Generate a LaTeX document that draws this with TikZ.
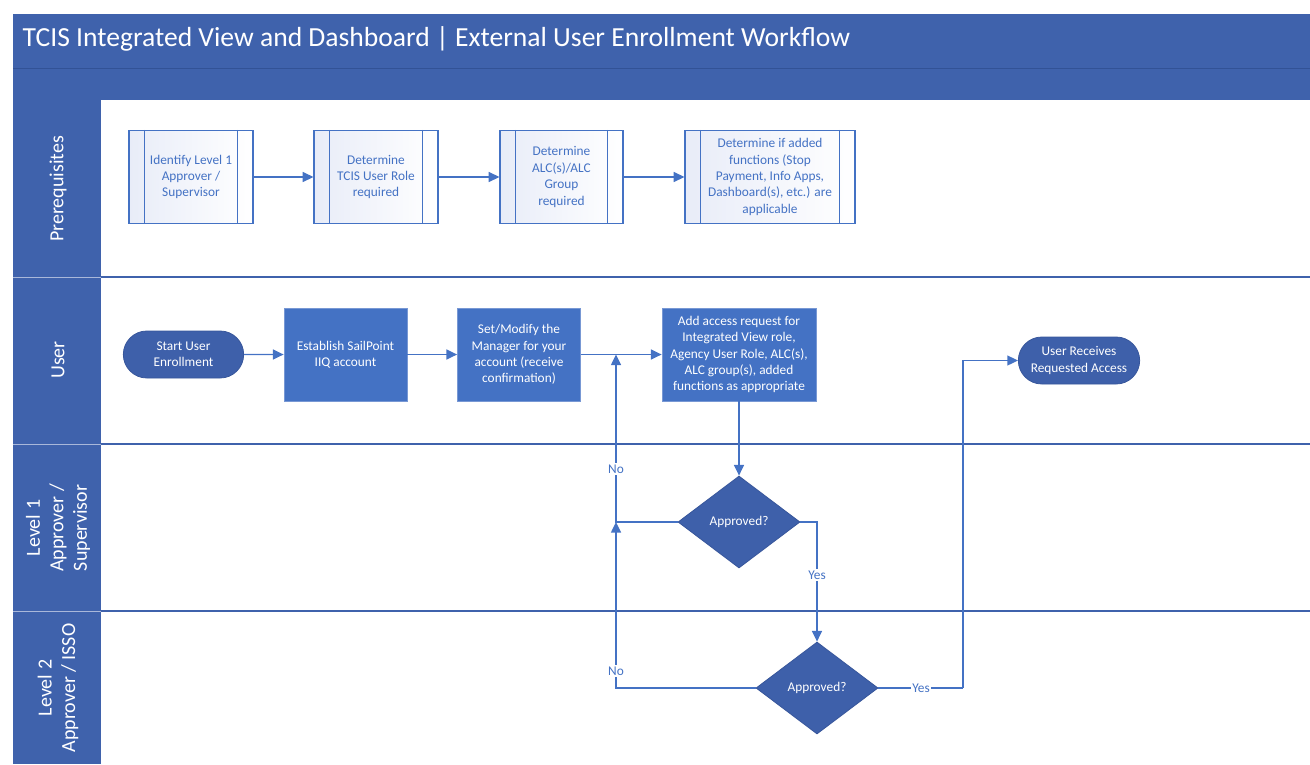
\documentclass[tikz,border=0pt]{standalone}
\usepackage{fontspec}
\setmainfont{Carlito}
\usetikzlibrary{arrows.meta,shapes.geometric,shapes.misc}
\definecolor{pool}{RGB}{63,98,172}
\definecolor{pooldark}{RGB}{50,82,150}
\definecolor{procblue}{RGB}{68,114,196}
\definecolor{procedge}{RGB}{120,152,212}
\definecolor{dark}{RGB}{62,96,170}
\definecolor{darkedge}{RGB}{55,86,155}
\definecolor{cline}{RGB}{68,114,196}
\definecolor{lav}{RGB}{232,236,248}
\begin{document}
\begin{tikzpicture}[x=0.75pt,y=-0.75pt,
  boxfont/.style={font=\fontsize{10}{12.3}\selectfont},
  sub/.style={rectangle, draw=cline, line width=0.9pt, left color=lav, right color=white, text=cline, align=center, minimum height={93*0.75pt}, inner sep=1pt, boxfont},
  proc/.style={rectangle, fill=procblue, draw=procedge, line width=0.6pt, text=white, align=center, minimum width={123*0.75pt}, minimum height={93*0.75pt}, inner sep=1pt, boxfont},
  term/.style={rounded rectangle, fill=dark, draw=darkedge, line width=0.6pt, text=white, align=center, minimum width={123*0.75pt}, minimum height={47*0.75pt}, inner sep=1pt, boxfont},
  dec/.style={diamond, fill=dark, draw=darkedge, line width=0.6pt, text=white, minimum width={122*0.75pt}, minimum height={92*0.75pt}, inner sep=0pt, boxfont},
  conn/.style={draw=cline, line width=1.1pt, -{Triangle[length=8pt,width=7.5pt]}},
  plain/.style={draw=cline, line width=1.1pt},
  lab/.style={fill=white, text=cline, inner sep=1pt, boxfont},
  lanelab/.style={rotate=90, text=white, align=center, font=\fontsize{15}{17.6}\selectfont}
]
\useasboundingbox (0,0) rectangle (1310,764);
% pool frame
\fill[pool] (13,14) rectangle (1310,100);
\draw[pooldark, line width=0.7pt] (13,68) -- (1310,68);
\fill[pool] (13,100) rectangle (101,764);
\foreach \yy in {277,444,611}{
  \draw[white!55!pool, line width=0.6pt] (13,\yy) -- (101,\yy);
  \draw[pool, line width=1.3pt] (101,\yy) -- (1310,\yy);
}
\node[anchor=west, text=white, font=\fontsize{20.7}{24}\selectfont] (title) at (18,39) {TCIS Integrated View and Dashboard | External User Enrollment Workflow};
% lane labels
\node[lanelab] (l1) at (58,189) {Prerequisites};
\node[lanelab] (l2) at (58,360) {User};
\node[lanelab] (l3) at (58,528) {Level 1\\Approver /\\Supervisor};
\node[lanelab] (l4) at (58,688) {Level 2\\Approver / ISSO};
% prerequisites
\node[sub, minimum width={124*0.75pt}] (p1) at (191,177) {Identify Level 1\\Approver /\\Supervisor};
\node[sub, minimum width={124*0.75pt}] (p2) at (376,177) {Determine\\TCIS User Role\\required};
\node[sub, minimum width={123*0.75pt}] (p3) at (561.5,177) {Determine\\ALC(s)/ALC\\Group\\required};
\node[sub, minimum width={170*0.75pt}] (p4) at (770,177) {Determine if added\\functions (Stop\\Payment, Info Apps,\\Dashboard(s), etc.) are\\applicable};
\foreach \n in {p1,p2,p3,p4}{
  \draw[cline, line width=0.9pt] ([xshift=12pt]\n.north west) -- ([xshift=12pt]\n.south west);
  \draw[cline, line width=0.9pt] ([xshift=-12pt]\n.north east) -- ([xshift=-12pt]\n.south east);
}
\draw[conn] (p1) -- (p2);
\draw[conn] (p2) -- (p3);
\draw[conn] (p3) -- (p4);
% user lane
\node[term] (s) at (183.5,354.5) {Start User\\Enrollment};
\node[proc] (e) at (345.5,354.5) {Establish SailPoint\\IIQ account};
\node[proc] (m) at (519,354.5) {Set/Modify the\\Manager for your\\account (receive\\confirmation)};
\node[proc, minimum width={154*0.75pt}] (a) at (739,354.5) {Add access request for\\Integrated View role,\\Agency User Role,  ALC(s),\\ALC group(s), added\\functions as appropriate};
\node[term, minimum width={124*0.75pt}] (r) at (1079,360.5) {User Receives\\Requested Access};
\draw[conn] (s) -- (e);
\draw[conn] (e) -- (m);
\draw[conn] (m) -- (a);
% decisions
\node[dec] (d1) at (739,522) {Approved?};
\node[dec] (d2) at (817,688) {Approved?};
\draw[conn] (a) -- (d1);
\coordinate (jtop) at (616,354.5);
\coordinate (jmid) at (616,522);
\coordinate (yc) at (963,688);
\draw[conn] (d1.west) -| (jtop);
\draw[conn] (d2.west) -| (jmid);
\draw[conn] (d1.east) -| (d2.north);
\draw[plain] (d2.east) -- (yc);
\draw[conn] (yc) |- (r.west);
\node[lab] (no1) at (616,469) {No};
\node[lab] (no2) at (616,671) {No};
\node[lab] (yes1) at (817,575) {Yes};
\node[lab] (yes2) at (921,688) {Yes};
\end{tikzpicture}
\end{document}
